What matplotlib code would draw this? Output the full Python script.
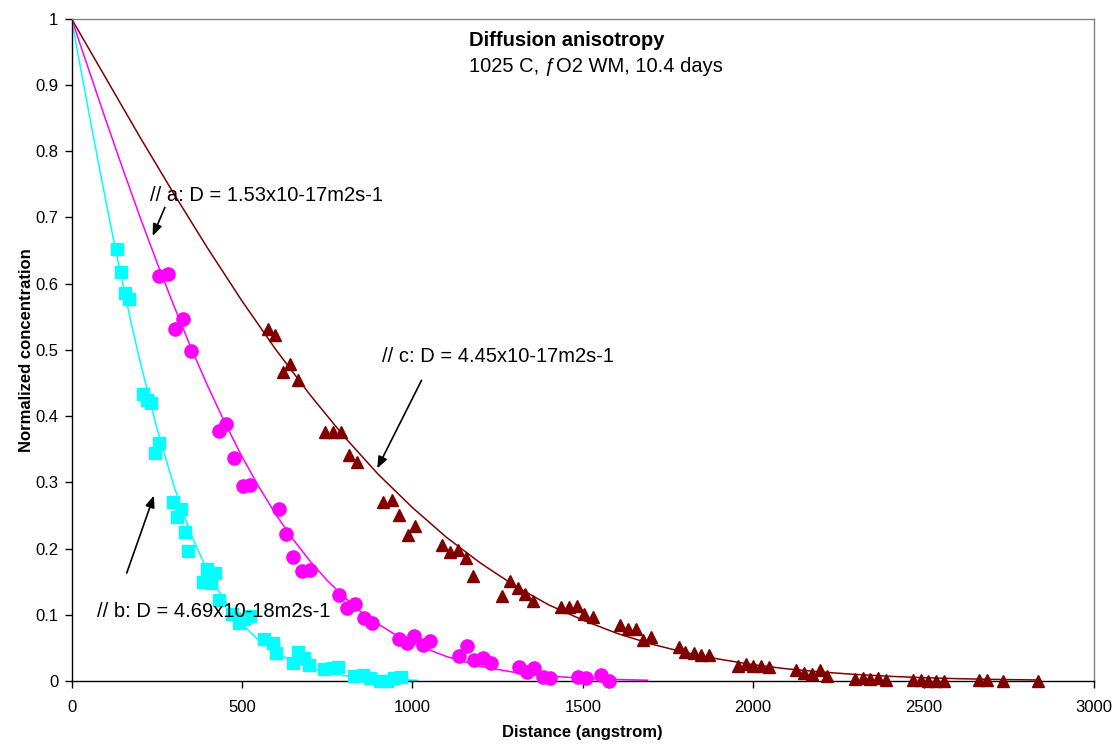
import matplotlib
matplotlib.use("Agg")
import matplotlib.pyplot as plt

plt.rcParams['font.family'] = ['Liberation Sans', 'DejaVu Sans']

# ---- data ----
# b : cyan squares
b_x = [134, 146, 157, 170, 210, 222, 234, 246, 256, 297, 309, 322, 332, 343, 387, 398,
       410, 422, 434, 470, 490, 505, 525, 566, 590, 600, 649, 664, 683, 698, 742, 766,
       781, 830, 855, 875, 905, 925, 945, 967]
b_y = [0.652, 0.618, 0.586, 0.577, 0.433, 0.424, 0.419, 0.344, 0.359, 0.270, 0.247, 0.260,
       0.225, 0.197, 0.150, 0.169, 0.148, 0.163, 0.123, 0.101, 0.087, 0.093, 0.098, 0.064,
       0.057, 0.042, 0.027, 0.044, 0.034, 0.024, 0.018, 0.019, 0.021, 0.007, 0.009, 0.004,
       0.0, 0.0, 0.004, 0.006]
b_fit_x = [0, 25, 50, 75, 100, 125, 150, 175, 200, 250, 300, 350, 400, 450, 500, 550, 600,
           650, 700, 800, 900, 1015]
b_fit_y = [1, 0.93, 0.861, 0.793, 0.727, 0.662, 0.601, 0.541, 0.485, 0.383, 0.295, 0.222,
           0.165, 0.12, 0.086, 0.061, 0.043, 0.029, 0.02, 0.008, 0.003, 0.001]

# a : magenta circles
a_x = [258, 282, 305, 327, 351, 432, 454, 478, 502, 525, 608, 630, 651, 677, 701, 784, 808,
       832, 857, 881, 960, 983, 1006, 1030, 1053, 1138, 1160, 1182, 1206, 1231, 1312, 1335,
       1358, 1382, 1405, 1485, 1509, 1553, 1578]
a_y = [0.611, 0.615, 0.531, 0.547, 0.498, 0.377, 0.388, 0.336, 0.295, 0.296, 0.260, 0.222,
       0.187, 0.166, 0.168, 0.130, 0.110, 0.116, 0.095, 0.088, 0.064, 0.058, 0.068, 0.054,
       0.060, 0.038, 0.053, 0.031, 0.034, 0.027, 0.021, 0.013, 0.019, 0.0065, 0.004, 0.0065,
       0.004, 0.009, 0.0]
a_fit_x = [0, 50, 100, 150, 200, 250, 300, 350, 400, 450, 500, 550, 600, 650, 700, 750, 800,
           850, 900, 950, 1000, 1100, 1200, 1300, 1400, 1500, 1600, 1690]
a_fit_y = [1, 0.924, 0.848, 0.774, 0.702, 0.633, 0.567, 0.504, 0.445, 0.39, 0.339, 0.293,
           0.251, 0.214, 0.181, 0.152, 0.127, 0.104, 0.086, 0.070, 0.057, 0.037, 0.022, 0.013,
           0.0075, 0.0042, 0.0023, 0.0012]

# c : dark red triangles
c_x = [576, 598, 620, 641, 665, 745, 766, 791, 815, 837, 915, 940, 962, 986, 1009, 1087,
       1111, 1135, 1157, 1179, 1263, 1286, 1309, 1331, 1353, 1436, 1459, 1483, 1505, 1529,
       1608, 1632, 1655, 1678, 1701, 1781, 1801, 1825, 1848, 1870, 1956, 1978, 2000, 2023,
       2045, 2126, 2148, 2172, 2195, 2218, 2298, 2321, 2344, 2367, 2390, 2470, 2493, 2514,
       2537, 2560, 2663, 2686, 2732, 2835]
c_y = [0.532, 0.523, 0.467, 0.479, 0.455, 0.376, 0.376, 0.376, 0.341, 0.331, 0.270, 0.273,
       0.250, 0.220, 0.234, 0.205, 0.195, 0.198, 0.186, 0.158, 0.128, 0.151, 0.141, 0.132,
       0.121, 0.112, 0.112, 0.113, 0.101, 0.097, 0.085, 0.078, 0.078, 0.062, 0.067, 0.051,
       0.044, 0.043, 0.039, 0.039, 0.023, 0.026, 0.023, 0.022, 0.021, 0.016, 0.012, 0.011,
       0.017, 0.0075, 0.0025, 0.004, 0.0025, 0.005, 0.0015, 0.0015, 0.0015, 0.0, 0.0, 0.0,
       0.0015, 0.0015, 0.0, 0.0]
c_fit_x = [0, 100, 200, 300, 400, 500, 600, 700, 800, 900, 1000, 1100, 1200, 1300, 1400,
           1500, 1600, 1700, 1800, 1900, 2000, 2100, 2200, 2300, 2400, 2500, 2600, 2700, 2840]
c_fit_y = [1, 0.911, 0.822, 0.736, 0.653, 0.574, 0.500, 0.432, 0.369, 0.312, 0.262, 0.217,
           0.178, 0.144, 0.115, 0.092, 0.072, 0.056, 0.043, 0.033, 0.0246, 0.0183, 0.0136,
           0.0099, 0.0071, 0.0050, 0.0035, 0.0025, 0.0015]

x_ticks = [0, 500, 1000, 1500, 2000, 2500, 3000]
y_ticks = [0, 0.1, 0.2, 0.3, 0.4, 0.5, 0.6, 0.7, 0.8, 0.9, 1]
y_tick_labels = ['0', '0.1', '0.2', '0.3', '0.4', '0.5', '0.6', '0.7', '0.8', '0.9', '1']

CYAN = '#00FFFF'
MAGENTA = '#FF00FF'
DARKRED = '#800000'

W, H = 1114, 744
L, R, T, B = 71.5, 1094, 18.7, 681
fig = plt.figure(figsize=(W / 100, H / 100), dpi=100)
ax = fig.add_axes([L / W, (H - B) / H, (R - L) / W, (B - T) / H])

ax.plot(c_fit_x, c_fit_y, color=DARKRED, lw=1.1, zorder=2)
ax.plot(a_fit_x, a_fit_y, color=MAGENTA, lw=1.1, zorder=2)
ax.plot(b_fit_x, b_fit_y, color=CYAN, lw=1.1, zorder=2)

ax.plot(c_x, c_y, linestyle='none', marker='^', ms=8.8, color=DARKRED, mec=DARKRED,
        clip_on=False, zorder=3)
ax.plot(a_x, a_y, linestyle='none', marker='o', ms=9.5, color=MAGENTA, mec=MAGENTA,
        clip_on=False, zorder=3)
ax.plot(b_x, b_y, linestyle='none', marker='s', ms=8.0, color=CYAN, mec=CYAN,
        clip_on=False, zorder=3)

ax.set_xlim(0, 3000)
ax.set_ylim(0, 1)
ax.set_xticks(x_ticks)
ax.set_xticklabels([str(t) for t in x_ticks])
ax.set_yticks(y_ticks)
ax.set_yticklabels(y_tick_labels)
ax.tick_params(axis='both', direction='out', length=5, width=1, labelsize=12, colors='black')
ax.tick_params(axis='x', pad=9)
ax.tick_params(axis='y', pad=4.5)

for s in ['left', 'bottom']:
    ax.spines[s].set_color('black')
    ax.spines[s].set_linewidth(1.0)
for s in ['top', 'right']:
    ax.spines[s].set_color('#808080')
    ax.spines[s].set_linewidth(1.0)

ax.set_xlabel('Distance (angstrom)', fontsize=12, fontweight='bold')
ax.xaxis.set_label_coords(0.5, -0.066)
ax.set_ylabel('Normalized concentration', fontsize=12, fontweight='bold')
ax.yaxis.set_label_coords(-0.037, 0.5)

# title block
ax.text(1166, 0.959, 'Diffusion anisotropy', fontsize=14.5, fontweight='bold',
        ha='left', va='baseline')
ax.text(1166, 0.919, '1025 C, ƒO2 WM, 10.4 days', fontsize=14.5, ha='left', va='baseline')

# annotations
ax.text(230, 0.725, '// a: D = 1.53x10-17m2s-1', fontsize=14.5, ha='left', va='baseline')
ax.text(910, 0.482, '// c: D = 4.45x10-17m2s-1', fontsize=14.5, ha='left', va='baseline')
ax.text(76, 0.097, '// b: D = 4.69x10-18m2s-1', fontsize=14.5, ha='left', va='baseline')

arrow_kw = dict(arrowstyle='-|>,head_length=0.7,head_width=0.28', color='black', lw=1.2,
                shrinkA=0, shrinkB=0)
ax.annotate('', xy=(238, 0.672), xytext=(274, 0.715), arrowprops=arrow_kw)
ax.annotate('', xy=(897, 0.321), xytext=(1027, 0.454), arrowprops=arrow_kw)
ax.annotate('', xy=(242, 0.280), xytext=(162, 0.163), arrowprops=arrow_kw)

fig.savefig('out.png', dpi=100)
